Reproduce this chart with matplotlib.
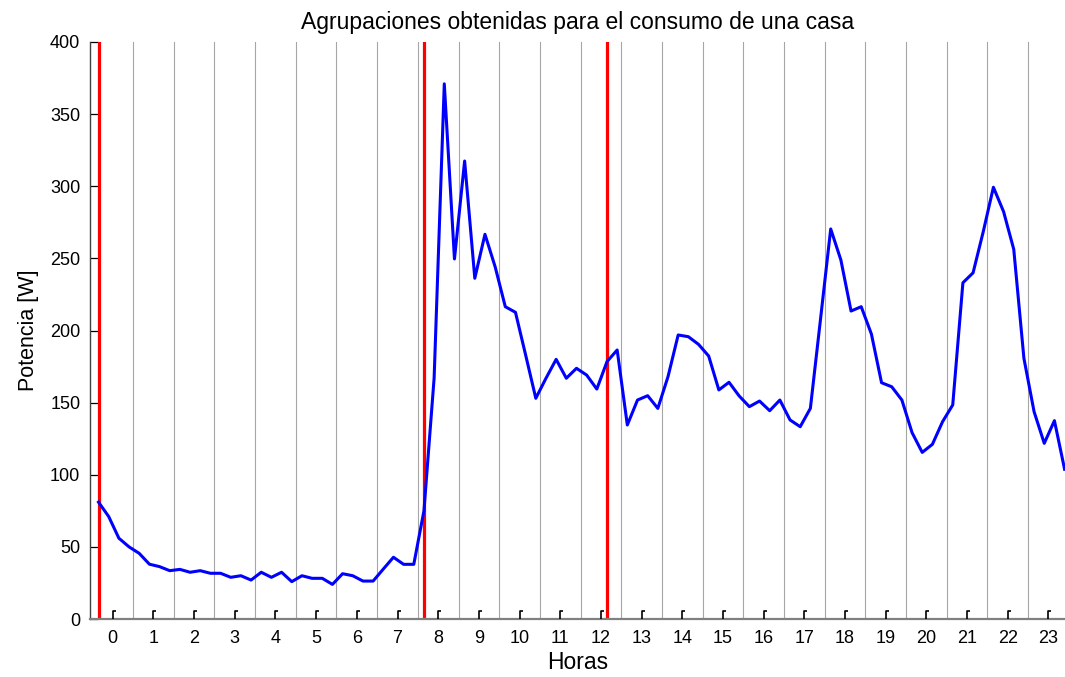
import numpy as np
import matplotlib
matplotlib.use('Agg')
import matplotlib.pyplot as plt
from matplotlib.path import Path
from matplotlib.markers import MarkerStyle

plt.rcParams['font.family'] = ['Liberation Sans', 'DejaVu Sans']

# consumo cada 15 minutos (W), 96 muestras
potencia = [81, 71, 56, 50, 45.5, 38, 36.3, 33.5, 34.4, 32.4,
            33.5, 31.7, 31.7, 28.9, 30, 27, 32.4, 28.9, 32.4, 25.9,
            30, 28.2, 28.2, 24, 31.4, 30, 26.3, 26.3, 34.6, 42.8,
            37.9, 37.9, 75, 167, 371, 249.6, 317.5, 236.2, 266.7, 244.2,
            216.5, 212.6, 183, 153, 166.9, 180, 166.9, 173.8, 169.1, 159.4,
            178.4, 186.5, 134.5, 151.8, 154.8, 146, 168, 196.9, 195.7, 190.4,
            182.3, 158.8, 164.1, 154.6, 147.2, 151.1, 144.4, 151.8, 138, 133.3,
            146, 208, 270.4, 248.9, 213.5, 216.5, 197.6, 163.8, 161, 151.8,
            129.2, 115.5, 121.1, 136.8, 148.4, 233.1, 240, 268.5, 299.3, 282.4,
            256.3, 180.7, 143.7, 121.8, 137.5, 103.8]
# indices de muestra donde empiezan los grupos
cortes = [0, 32, 50]
horas = list(range(24))

t = np.arange(len(potencia)) * 0.25 - 0.35

fig = plt.figure(figsize=(10.65, 6.77), dpi=100)
ax = fig.add_axes([90 / 1065, 58 / 677, 1 - 90 / 1065, 577 / 677])

# separadores entre horas
for h in horas[:-1]:
    ax.axvline(h + 0.5, color='#a6a6a6', lw=0.8, zorder=1)

for c in cortes:
    ax.axvline(t[c], color='#ff0000', lw=2.3, zorder=2)

ax.plot(t, potencia, color='#0000ff', lw=2.2, zorder=3)

# marcas de hora con forma de escuadra
gancho = Path([(0, 0), (0, 1), (0.35, 1)], [Path.MOVETO, Path.LINETO, Path.LINETO])
ax.plot(horas, np.zeros(len(horas)), linestyle='none', marker=MarkerStyle(gancho),
        markersize=11.5, markeredgecolor='k', markerfacecolor='none',
        markeredgewidth=1.2, clip_on=False, zorder=4)

ax.set_xlim(-0.56, 23.41)
ax.set_ylim(0, 400)
ax.set_xticks(horas)
ax.set_xticklabels([str(h) for h in horas])
ax.set_yticks(range(0, 401, 50))
ax.tick_params(axis='x', length=0, pad=8, labelsize=13)
ax.tick_params(axis='y', direction='in', length=6, width=0.9, pad=7, labelsize=13)

ax.spines['top'].set_visible(False)
ax.spines['right'].set_visible(False)
ax.spines['left'].set_color('#404040')
ax.spines['left'].set_linewidth(1.0)
ax.spines['bottom'].set_color('#808080')
ax.spines['bottom'].set_linewidth(1.6)

ax.set_title('Agrupaciones obtenidas para el consumo de una casa', fontsize=16.5, pad=9)
ax.set_xlabel('Horas', fontsize=16.5, labelpad=3)
ax.set_ylabel('Potencia [W]', fontsize=15.5, labelpad=8)

fig.savefig('out.png', dpi=100)
